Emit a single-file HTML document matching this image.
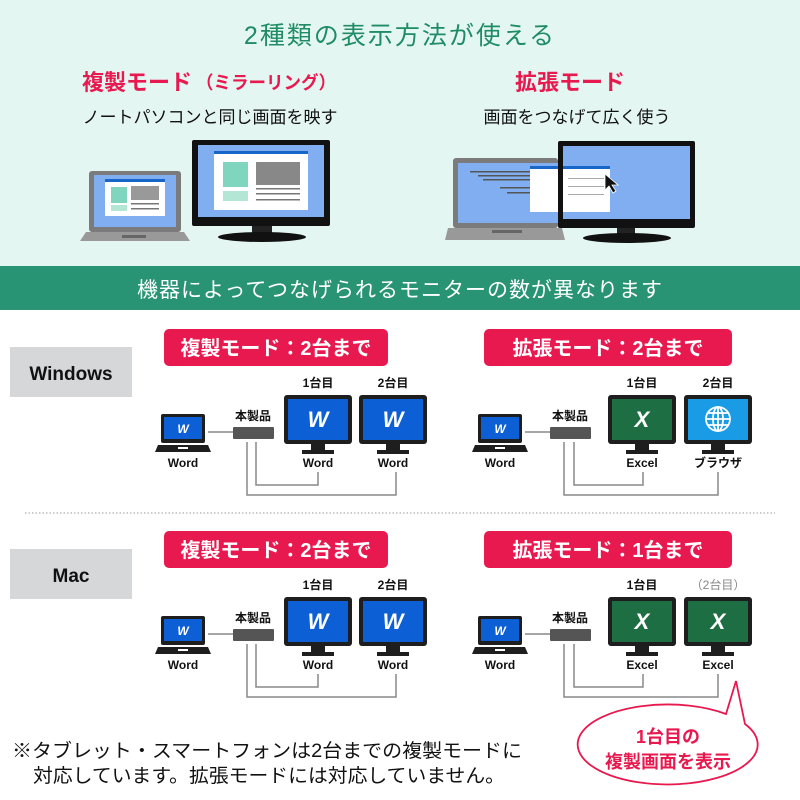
<!DOCTYPE html>
<html><head><meta charset="utf-8">
<style>
html,body{margin:0;padding:0;background:#fff;}
svg{display:block;}
text{font-family:"Liberation Sans","Noto Sans CJK JP",sans-serif;}
</style></head>
<body>
<svg width="800" height="800" viewBox="0 0 800 800" xmlns="http://www.w3.org/2000/svg">
<defs>
  <g id="mon">
    <rect x="0" y="0" width="68" height="49" rx="3" fill="#1e1e1e"/>
    <rect x="27" y="49" width="14" height="7" fill="#1e1e1e"/>
    <rect x="18" y="55" width="32" height="4" fill="#1e1e1e"/>
  </g>
  <g id="lap">
    <rect x="0" y="0" width="44" height="29" rx="2" fill="#1e1e1e"/>
    <rect x="3" y="3" width="38" height="22" fill="#0d5fd6"/>
    <text x="22" y="19" font-size="12" font-weight="bold" font-style="italic" fill="#fff" text-anchor="middle">W</text>
    <polygon points="-3,31 47,31 50,38 -6,38" fill="#1e1e1e"/>
    <rect x="17" y="33" width="10" height="2" fill="#fff"/>
  </g>
</defs>

<!-- top section -->
<rect x="0" y="0" width="800" height="266" fill="#e4f6f2"/>
<text x="400" y="44" font-size="25" fill="#1f8c66" text-anchor="middle" letter-spacing="2">2種類の表示方法が使える</text>
<text x="82" y="90" font-size="22" font-weight="bold" fill="#e8194f">複製モード</text>
<text x="196" y="89" font-size="18" font-weight="bold" fill="#e8194f" textLength="140" lengthAdjust="spacingAndGlyphs">（ミラーリング）</text>
<text x="210" y="123" font-size="17" fill="#111" text-anchor="middle">ノートパソコンと同じ画面を映す</text>
<text x="570" y="90" font-size="22" font-weight="bold" fill="#e8194f" text-anchor="middle">拡張モード</text>
<text x="577" y="123" font-size="17" fill="#111" text-anchor="middle">画面をつなげて広く使う</text>

<!-- left illustration -->
<g>
  <rect x="89" y="171" width="92" height="61" rx="3" fill="#7b7b7b"/>
  <rect x="94" y="175" width="82" height="52" fill="#80aef0"/>
  <rect x="105" y="179" width="60" height="37" fill="#fff"/>
  <rect x="105" y="179" width="60" height="3" fill="#1766c9"/>
  <rect x="111" y="187" width="16" height="16" fill="#7fd5bd"/>
  <rect x="111" y="205" width="16" height="6" fill="#b4e6d6"/>
  <rect x="131" y="186" width="28" height="14" fill="#555" opacity="0.6"/>
  <rect x="131" y="203" width="28" height="1.5" fill="#777"/>
  <rect x="131" y="208" width="28" height="1.5" fill="#777"/>
  <polygon points="86,232 184,232 190,241 80,241" fill="#999"/>
  <rect x="122" y="235" width="24" height="3" fill="#666"/>
  <rect x="192" y="140" width="138" height="86" rx="2" fill="#111"/>
  <rect x="198" y="145" width="126" height="72" fill="#80aef0"/>
  <rect x="214" y="151" width="94" height="59" fill="#fff"/>
  <rect x="214" y="151" width="94" height="3" fill="#1766c9"/>
  <rect x="223" y="162" width="25" height="25" fill="#7fd5bd"/>
  <rect x="223" y="191" width="25" height="10" fill="#b4e6d6"/>
  <rect x="256" y="162" width="44" height="23" fill="#888"/>
  <rect x="256" y="188" width="44" height="1.5" fill="#777"/>
  <rect x="256" y="193" width="44" height="1.5" fill="#777"/>
  <rect x="256" y="199" width="44" height="1.5" fill="#777"/>
  <rect x="252" y="226" width="20" height="9" fill="#222"/>
  <ellipse cx="262" cy="237" rx="44" ry="5" fill="#111"/>
</g>
<!-- right illustration -->
<g>
  <rect x="453" y="158" width="105" height="70" rx="3" fill="#7b7b7b"/>
  <rect x="458" y="163" width="100" height="60" fill="#80aef0"/>
  <rect x="470" y="171" width="60" height="1.5" fill="#555"/>
  <rect x="478" y="175" width="52" height="1.5" fill="#555"/>
  <rect x="483" y="179" width="47" height="1.5" fill="#555"/>
  <rect x="500" y="187" width="30" height="1.5" fill="#555"/>
  <rect x="507" y="192" width="30" height="1.5" fill="#555"/>
  <rect x="530" y="166" width="28" height="46" fill="#fff"/>
  <rect x="530" y="166" width="28" height="3" fill="#1766c9"/>
  <polygon points="448,228 562,228 565,240 445,240" fill="#999"/>
  <rect x="492" y="230" width="30" height="3" fill="#666"/>
  <rect x="558" y="141" width="137" height="87" rx="2" fill="#111"/>
  <rect x="563" y="146" width="127" height="73" fill="#80aef0"/>
  <rect x="563" y="166" width="47" height="46" fill="#fff"/>
  <rect x="563" y="166" width="47" height="3" fill="#1766c9"/>
  <rect x="568" y="178" width="36" height="1" fill="#aaa"/>
  <rect x="568" y="186" width="36" height="1" fill="#aaa"/>
  <rect x="568" y="194" width="36" height="1" fill="#aaa"/>
  <polygon points="605,174 605,190 609,186 613,193 616,191 612,185 618,185" fill="#111" stroke="#fff" stroke-width="0.8"/>
  <rect x="617" y="228" width="18" height="8" fill="#222"/>
  <ellipse cx="627" cy="238" rx="44" ry="5" fill="#111"/>
</g>

<!-- green band -->
<rect x="0" y="266" width="800" height="44" fill="#289473"/>
<text x="400" y="297" font-size="21" fill="#fff" text-anchor="middle" letter-spacing="1">機器によってつなげられるモニターの数が異なります</text>

<!-- OS labels -->
<rect x="10" y="347" width="122" height="50" fill="#d6d7d9"/>
<text x="71" y="380" font-size="19" font-weight="bold" fill="#111" text-anchor="middle">Windows</text>
<rect x="10" y="549" width="122" height="50" fill="#d6d7d9"/>
<text x="71" y="582" font-size="19" font-weight="bold" fill="#111" text-anchor="middle">Mac</text>

<line x1="25" y1="513" x2="775" y2="513" stroke="#999" stroke-width="1" stroke-dasharray="1.5,2"/>

<!-- badges -->
<rect x="164" y="329" width="224" height="37" rx="5" fill="#e8194f"/>
<text x="276" y="355" font-size="20" font-weight="bold" fill="#fff" text-anchor="middle">複製モード：2台まで</text>
<rect x="484" y="329" width="248" height="37" rx="5" fill="#e8194f"/>
<text x="608" y="355" font-size="20" font-weight="bold" fill="#fff" text-anchor="middle">拡張モード：2台まで</text>
<rect x="164" y="531" width="224" height="37" rx="5" fill="#e8194f"/>
<text x="276" y="557" font-size="20" font-weight="bold" fill="#fff" text-anchor="middle">複製モード：2台まで</text>
<rect x="484" y="531" width="248" height="37" rx="5" fill="#e8194f"/>
<text x="608" y="557" font-size="20" font-weight="bold" fill="#fff" text-anchor="middle">拡張モード：1台まで</text>

<!-- diagram rows -->
<g font-weight="bold" font-size="12" fill="#111">
  <use href="#lap" x="161" y="414"/>
  <text x="183" y="467" text-anchor="middle">Word</text>
  <line x1="208" y1="432" x2="233" y2="432" stroke="#888" stroke-width="1.5"/>
  <rect x="233" y="427" width="41" height="12" rx="1" fill="#555"/>
  <text x="253" y="420" text-anchor="middle">本製品</text>
  <polyline points="256,442 256,485 318,485 318,472" fill="none" stroke="#888" stroke-width="1.5"/>
  <polyline points="247,442 247,495 396,495 396,472" fill="none" stroke="#888" stroke-width="1.5"/>
  <use href="#mon" x="284" y="395"/><rect x="288" y="399" width="60" height="41" fill="#0d5fd6"/>
  <text x="318" y="427" font-size="22" font-style="italic" fill="#fff" text-anchor="middle">W</text>
  <use href="#mon" x="359" y="395"/><rect x="363" y="399" width="60" height="41" fill="#0d5fd6"/>
  <text x="393" y="427" font-size="22" font-style="italic" fill="#fff" text-anchor="middle">W</text>
  <text x="318" y="387" text-anchor="middle">1台目</text>
  <text x="393" y="387" text-anchor="middle">2台目</text>
  <text x="318" y="467" text-anchor="middle">Word</text>
  <text x="393" y="467" text-anchor="middle">Word</text>

  <use href="#lap" x="478" y="414"/>
  <text x="500" y="467" text-anchor="middle">Word</text>
  <line x1="525" y1="432" x2="550" y2="432" stroke="#888" stroke-width="1.5"/>
  <rect x="550" y="427" width="41" height="12" rx="1" fill="#555"/>
  <text x="570" y="420" text-anchor="middle">本製品</text>
  <polyline points="574,442 574,485 643,485 643,472" fill="none" stroke="#888" stroke-width="1.5"/>
  <polyline points="564,442 564,495 718,495 718,472" fill="none" stroke="#888" stroke-width="1.5"/>
  <use href="#mon" x="608" y="395"/><rect x="612" y="399" width="60" height="41" fill="#1e6e43"/>
  <text x="642" y="427" font-size="22" font-style="italic" fill="#fff" text-anchor="middle">X</text>
  <use href="#mon" x="684" y="395"/><rect x="688" y="399" width="60" height="41" fill="#1a9be6"/>
  <g fill="none" stroke="#fff" stroke-width="1.8">
    <circle cx="718" cy="419" r="12"/>
    <ellipse cx="718" cy="419" rx="5" ry="12"/>
    <line x1="706" y1="419" x2="730" y2="419"/>
    <line x1="718" y1="407" x2="718" y2="431"/>
    <line x1="708" y1="413" x2="728" y2="413"/>
    <line x1="708" y1="425" x2="728" y2="425"/>
  </g>
  <text x="642" y="387" text-anchor="middle">1台目</text>
  <text x="718" y="387" text-anchor="middle">2台目</text>
  <text x="642" y="467" text-anchor="middle">Excel</text>
  <text x="718" y="467" text-anchor="middle">ブラウザ</text>
</g>

<!-- Mac rows -->
<g font-weight="bold" font-size="12" fill="#111">
  <use href="#lap" x="161" y="616"/>
  <text x="183" y="669" text-anchor="middle">Word</text>
  <line x1="208" y1="634" x2="233" y2="634" stroke="#888" stroke-width="1.5"/>
  <rect x="233" y="629" width="41" height="12" rx="1" fill="#555"/>
  <text x="253" y="622" text-anchor="middle">本製品</text>
  <polyline points="256,644 256,687 318,687 318,674" fill="none" stroke="#888" stroke-width="1.5"/>
  <polyline points="247,644 247,697 396,697 396,674" fill="none" stroke="#888" stroke-width="1.5"/>
  <use href="#mon" x="284" y="597"/><rect x="288" y="601" width="60" height="41" fill="#0d5fd6"/>
  <text x="318" y="629" font-size="22" font-style="italic" fill="#fff" text-anchor="middle">W</text>
  <use href="#mon" x="359" y="597"/><rect x="363" y="601" width="60" height="41" fill="#0d5fd6"/>
  <text x="393" y="629" font-size="22" font-style="italic" fill="#fff" text-anchor="middle">W</text>
  <text x="318" y="589" text-anchor="middle">1台目</text>
  <text x="393" y="589" text-anchor="middle">2台目</text>
  <text x="318" y="669" text-anchor="middle">Word</text>
  <text x="393" y="669" text-anchor="middle">Word</text>

  <use href="#lap" x="478" y="616"/>
  <text x="500" y="669" text-anchor="middle">Word</text>
  <line x1="525" y1="634" x2="550" y2="634" stroke="#888" stroke-width="1.5"/>
  <rect x="550" y="629" width="41" height="12" rx="1" fill="#555"/>
  <text x="570" y="622" text-anchor="middle">本製品</text>
  <polyline points="574,644 574,687 643,687 643,674" fill="none" stroke="#888" stroke-width="1.5"/>
  <polyline points="564,644 564,697 718,697 718,674" fill="none" stroke="#888" stroke-width="1.5"/>
  <use href="#mon" x="608" y="597"/><rect x="612" y="601" width="60" height="41" fill="#1e6e43"/>
  <text x="642" y="629" font-size="22" font-style="italic" fill="#fff" text-anchor="middle">X</text>
  <use href="#mon" x="684" y="597"/><rect x="688" y="601" width="60" height="41" fill="#1e6e43"/>
  <text x="718" y="629" font-size="22" font-style="italic" fill="#fff" text-anchor="middle">X</text>
  <text x="642" y="589" text-anchor="middle">1台目</text>
  <text x="718" y="589" text-anchor="middle" fill="#888" font-weight="normal">（2台目）</text>
  <text x="642" y="669" text-anchor="middle">Excel</text>
  <text x="718" y="669" text-anchor="middle">Excel</text>
</g>

<!-- callout -->
<path d="M 726,714 L 736,681 L 745,724 A 90 40 0 1 1 726,714 Z" fill="#fff" stroke="#e8194f" stroke-width="1.8"/>
<text x="668" y="743" font-size="18" font-weight="bold" fill="#e8194f" text-anchor="middle">1台目の</text>
<text x="668" y="768" font-size="18" font-weight="bold" fill="#e8194f" text-anchor="middle">複製画面を表示</text>

<!-- note -->
<text x="12" y="757" font-size="19" fill="#111" textLength="510" lengthAdjust="spacingAndGlyphs">※タブレット・スマートフォンは2台までの複製モードに</text>
<text x="33" y="782" font-size="19" fill="#111" textLength="472" lengthAdjust="spacingAndGlyphs">対応しています。拡張モードには対応していません。</text>
</svg>
</body></html>
